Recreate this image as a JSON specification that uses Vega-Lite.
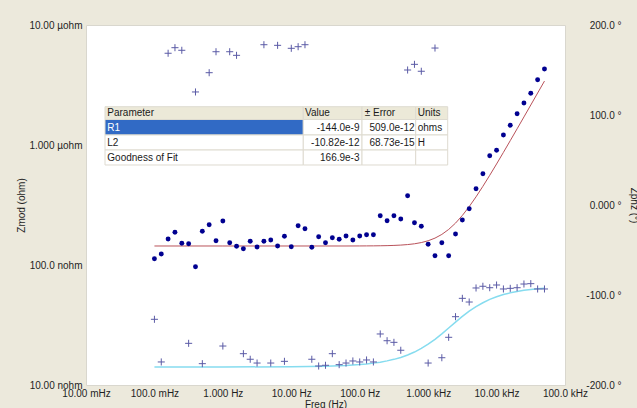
{
  "$schema": "https://vega.github.io/schema/vega-lite/v6.json",
  "width": 479,
  "height": 360,
  "autosize": {"type": "none"},
  "padding": {"left": 86, "top": 25, "right": 72, "bottom": 23},
  "background": "#ece9dc",
  "config": {
    "view": {"fill": "#ffffff", "stroke": "#d9d7ce"},
    "font": "Liberation Sans",
    "axis": {
      "domain": false, "ticks": false, "grid": false,
      "labelFont": "Liberation Sans", "labelFontSize": 10, "labelColor": "#1e1e1e",
      "titleFont": "Liberation Sans", "titleFontSize": 10, "titleFontWeight": "normal", "titleColor": "#1e1e1e",
      "labelFlush": false, "labelOverlap": false, "labelBound": false
    }
  },
  "datasets": {
    "points": [
      {"f": 0.1, "zmod": 1.128e-7, "phase": -127.0},
      {"f": 0.1259, "zmod": 1.235e-7, "phase": -174.4},
      {"f": 0.1585, "zmod": 1.647e-7, "phase": 168.6},
      {"f": 0.1995, "zmod": 1.873e-7, "phase": 174.8},
      {"f": 0.2512, "zmod": 1.516e-7, "phase": 171.9},
      {"f": 0.3162, "zmod": 1.505e-7, "phase": -153.7},
      {"f": 0.3981, "zmod": 9.68e-8, "phase": 125.6},
      {"f": 0.5012, "zmod": 1.909e-7, "phase": -176.3},
      {"f": 0.631, "zmod": 2.166e-7, "phase": 147.0},
      {"f": 0.7943, "zmod": 1.594e-7, "phase": 170.3},
      {"f": 1, "zmod": 2.326e-7, "phase": -156.7},
      {"f": 1.259, "zmod": 1.534e-7, "phase": 170.3},
      {"f": 1.585, "zmod": 1.431e-7, "phase": 166.3},
      {"f": 1.995, "zmod": 1.367e-7, "phase": -165.2},
      {"f": 2.512, "zmod": 1.576e-7, "phase": -171.4},
      {"f": 3.162, "zmod": 1.413e-7, "phase": -175.6},
      {"f": 3.981, "zmod": 1.576e-7, "phase": 178.1},
      {"f": 5.012, "zmod": 1.616e-7, "phase": -175.6},
      {"f": 6.31, "zmod": 1.44e-7, "phase": 177.4},
      {"f": 7.943, "zmod": 1.735e-7, "phase": -173.7},
      {"f": 10, "zmod": 1.42e-7, "phase": 174.1},
      {"f": 12.59, "zmod": 2.125e-7, "phase": 175.9},
      {"f": 15.85, "zmod": 2.006e-7, "phase": 178.1},
      {"f": 19.95, "zmod": 1.405e-7, "phase": -171.4},
      {"f": 25.12, "zmod": 1.721e-7, "phase": -178.9},
      {"f": 31.62, "zmod": 1.534e-7, "phase": -178.1},
      {"f": 39.81, "zmod": 1.688e-7, "phase": -165.2},
      {"f": 50.12, "zmod": 1.638e-7, "phase": -177.4},
      {"f": 63.1, "zmod": 1.745e-7, "phase": -175.6},
      {"f": 79.43, "zmod": 1.616e-7, "phase": -173.3},
      {"f": 100, "zmod": 1.745e-7, "phase": -174.4},
      {"f": 125.9, "zmod": 1.789e-7, "phase": -172.2},
      {"f": 158.5, "zmod": 1.789e-7, "phase": -174.4},
      {"f": 199.5, "zmod": 2.575e-7, "phase": -143.3},
      {"f": 251.2, "zmod": 2.339e-7, "phase": -150.8},
      {"f": 316.2, "zmod": 2.575e-7, "phase": -152.6},
      {"f": 398.1, "zmod": 2.416e-7, "phase": -161.4},
      {"f": 501.2, "zmod": 3.78e-7, "phase": 150.0},
      {"f": 631, "zmod": 2.251e-7, "phase": 156.3},
      {"f": 794.3, "zmod": 2.101e-7, "phase": 148.6},
      {"f": 1000, "zmod": 1.49e-7, "phase": -175.6},
      {"f": 1259, "zmod": 1.193e-7, "phase": 174.4},
      {"f": 1585, "zmod": 1.534e-7, "phase": -169.7},
      {"f": 1995, "zmod": 1.193e-7, "phase": -147.0},
      {"f": 2512, "zmod": 1.813e-7, "phase": -124.1},
      {"f": 3162, "zmod": 2.371e-7, "phase": -103.7},
      {"f": 3981, "zmod": 2.945e-7, "phase": -107.8},
      {"f": 5012, "zmod": 4.323e-7, "phase": -92.2},
      {"f": 6310, "zmod": 5.765e-7, "phase": -90.3},
      {"f": 7943, "zmod": 8.143e-7, "phase": -91.9},
      {"f": 10000, "zmod": 9.03e-7, "phase": -88.9},
      {"f": 12590, "zmod": 1.212e-6, "phase": -93.3},
      {"f": 15850, "zmod": 1.459e-6, "phase": -92.6},
      {"f": 19950, "zmod": 1.823e-6, "phase": -91.9},
      {"f": 25120, "zmod": 2.239e-6, "phase": -87.8},
      {"f": 31620, "zmod": 2.697e-6, "phase": -87.4},
      {"f": 39810, "zmod": 3.5e-6, "phase": -93.3},
      {"f": 50120, "zmod": 4.3e-6, "phase": -93.3}
    ],
    "fit": [
      {"f": 0.1, "zfit": 1.44e-7, "pfit": -180.0},
      {"f": 1, "zfit": 1.44e-7, "pfit": -180.0},
      {"f": 10, "zfit": 1.44e-7, "pfit": -179.7},
      {"f": 31.62, "zfit": 1.44e-7, "pfit": -179.1},
      {"f": 63.1, "zfit": 1.44e-7, "pfit": -178.3},
      {"f": 100, "zfit": 1.4416e-7, "pfit": -177.3},
      {"f": 125.9, "zfit": 1.4425e-7, "pfit": -176.6},
      {"f": 158.5, "zfit": 1.444e-7, "pfit": -175.7},
      {"f": 199.5, "zfit": 1.4464e-7, "pfit": -174.6},
      {"f": 251.2, "zfit": 1.4501e-7, "pfit": -173.2},
      {"f": 316.2, "zfit": 1.456e-7, "pfit": -171.5},
      {"f": 398.1, "zfit": 1.4652e-7, "pfit": -169.4},
      {"f": 501.2, "zfit": 1.4798e-7, "pfit": -166.7},
      {"f": 631, "zfit": 1.5025e-7, "pfit": -163.4},
      {"f": 794.3, "zfit": 1.5379e-7, "pfit": -159.4},
      {"f": 1000, "zfit": 1.5925e-7, "pfit": -154.7},
      {"f": 1259, "zfit": 1.6752e-7, "pfit": -149.3},
      {"f": 1585, "zfit": 1.7985e-7, "pfit": -143.2},
      {"f": 1995, "zfit": 1.9782e-7, "pfit": -136.7},
      {"f": 2512, "zfit": 2.234e-7, "pfit": -130.1},
      {"f": 3162, "zfit": 2.588e-7, "pfit": -123.8},
      {"f": 3981, "zfit": 3.066e-7, "pfit": -118.0},
      {"f": 5012, "zfit": 3.699e-7, "pfit": -112.9},
      {"f": 6310, "zfit": 4.525e-7, "pfit": -108.6},
      {"f": 7943, "zfit": 5.589e-7, "pfit": -104.9},
      {"f": 10000, "zfit": 6.949e-7, "pfit": -102.0},
      {"f": 12590, "zfit": 8.68e-7, "pfit": -99.5},
      {"f": 15850, "zfit": 1.0871e-6, "pfit": -97.6},
      {"f": 19950, "zfit": 1.364e-6, "pfit": -96.1},
      {"f": 25120, "zfit": 1.7139e-6, "pfit": -94.8},
      {"f": 31620, "zfit": 2.1549e-6, "pfit": -93.8},
      {"f": 39810, "zfit": 2.7109e-6, "pfit": -93.0},
      {"f": 50120, "zfit": 3.4103e-6, "pfit": -92.4}
    ],
    "tableCells": [
      {"f": 0.01896, "f2": 14.98, "z": 2.085e-6, "z2": 1.631e-6, "kind": "header"},
      {"f": 14.98, "f2": 108.0, "z": 2.085e-6, "z2": 1.631e-6, "kind": "header"},
      {"f": 108.0, "f2": 657.7, "z": 2.085e-6, "z2": 1.631e-6, "kind": "header"},
      {"f": 657.7, "f2": 1931, "z": 2.085e-6, "z2": 1.631e-6, "kind": "header"},
      {"f": 0.01896, "f2": 14.98, "z": 1.631e-6, "z2": 1.212e-6, "kind": "selected"},
      {"f": 14.98, "f2": 108.0, "z": 1.631e-6, "z2": 1.212e-6, "kind": "cell"},
      {"f": 108.0, "f2": 657.7, "z": 1.631e-6, "z2": 1.212e-6, "kind": "cell"},
      {"f": 657.7, "f2": 1931, "z": 1.631e-6, "z2": 1.212e-6, "kind": "cell"},
      {"f": 0.01896, "f2": 14.98, "z": 1.212e-6, "z2": 9.085e-7, "kind": "cell"},
      {"f": 14.98, "f2": 108.0, "z": 1.212e-6, "z2": 9.085e-7, "kind": "cell"},
      {"f": 108.0, "f2": 657.7, "z": 1.212e-6, "z2": 9.085e-7, "kind": "cell"},
      {"f": 657.7, "f2": 1931, "z": 1.212e-6, "z2": 9.085e-7, "kind": "cell"},
      {"f": 0.01896, "f2": 14.98, "z": 9.085e-7, "z2": 6.813e-7, "kind": "cell"},
      {"f": 14.98, "f2": 108.0, "z": 9.085e-7, "z2": 6.813e-7, "kind": "cell"},
      {"f": 108.0, "f2": 657.7, "z": 9.085e-7, "z2": 6.813e-7, "kind": "cell"},
      {"f": 657.7, "f2": 1931, "z": 9.085e-7, "z2": 6.813e-7, "kind": "cell"}
    ],
    "tableLeft": [
      {"label": "Parameter", "f": 0.02047, "z": 1.848e-6},
      {"label": "R1", "f": 0.02047, "z": 1.399e-6},
      {"label": "L2", "f": 0.02047, "z": 1.049e-6},
      {"label": "Goodness of Fit", "f": 0.02047, "z": 7.866e-7},
      {"label": "Value", "f": 15.86, "z": 1.848e-6},
      {"label": "± Error", "f": 118.3, "z": 1.848e-6},
      {"label": "509.0e-12", "f": 139.0, "z": 1.399e-6},
      {"label": "68.73e-15", "f": 139.0, "z": 1.049e-6},
      {"label": "Units", "f": 703.8, "z": 1.848e-6},
      {"label": "ohms", "f": 703.8, "z": 1.399e-6},
      {"label": "H", "f": 703.8, "z": 1.049e-6}
    ],
    "tableRight": [
      {"label": "-144.0e-9", "f": 99.27, "z": 1.399e-6},
      {"label": "-10.82e-12", "f": 99.27, "z": 1.049e-6},
      {"label": "166.9e-3", "f": 99.27, "z": 7.866e-7}
    ]
  },
  "layer": [
    {
      "layer": [
        {
          "data": {"name": "fit"},
          "mark": {"type": "line", "color": "#b9525a", "strokeWidth": 1},
          "encoding": {
            "x": {"field": "f", "type": "quantitative", "scale": {"type": "log", "domain": [0.01, 100000]},
              "axis": {"title": "Freq (Hz)", "values": [0.01, 0.1, 1, 10, 100, 1000, 10000, 100000],
                "labelExpr": "datum.value < 0.05 ? '10.00 mHz' : datum.value < 0.5 ? '100.0 mHz' : datum.value < 5 ? '1.000 Hz' : datum.value < 50 ? '10.00 Hz' : datum.value < 500 ? '100.0 Hz' : datum.value < 5000 ? '1.000 kHz' : datum.value < 50000 ? '10.00 kHz' : '100.0 kHz'",
                "labelPadding": 3, "titlePadding": 1}},
            "y": {"field": "zfit", "type": "quantitative", "scale": {"type": "log", "domain": [1e-8, 1e-5]},
              "axis": {"title": "Zmod (ohm)", "values": [1e-8, 1e-7, 1e-6, 1e-5],
                "labelExpr": "datum.value < 5e-8 ? '10.00 nohm' : datum.value < 5e-7 ? '100.0 nohm' : datum.value < 5e-6 ? '1.000 µohm' : '10.00 µohm'",
                "labelPadding": 4, "titlePadding": 2}}
          }
        },
        {
          "data": {"name": "points"},
          "mark": {"type": "point", "shape": "circle", "filled": true, "color": "#000090", "size": 24, "opacity": 1},
          "encoding": {
            "x": {"field": "f", "type": "quantitative", "scale": {"type": "log", "domain": [0.01, 100000]},
              "axis": {"title": "Freq (Hz)", "values": [0.01, 0.1, 1, 10, 100, 1000, 10000, 100000],
                "labelExpr": "datum.value < 0.05 ? '10.00 mHz' : datum.value < 0.5 ? '100.0 mHz' : datum.value < 5 ? '1.000 Hz' : datum.value < 50 ? '10.00 Hz' : datum.value < 500 ? '100.0 Hz' : datum.value < 5000 ? '1.000 kHz' : datum.value < 50000 ? '10.00 kHz' : '100.0 kHz'",
                "labelPadding": 3, "titlePadding": 1}},
            "y": {"field": "zmod", "type": "quantitative", "scale": {"type": "log", "domain": [1e-8, 1e-5]},
              "axis": {"title": "Zmod (ohm)", "values": [1e-8, 1e-7, 1e-6, 1e-5],
                "labelExpr": "datum.value < 5e-8 ? '10.00 nohm' : datum.value < 5e-7 ? '100.0 nohm' : datum.value < 5e-6 ? '1.000 µohm' : '10.00 µohm'",
                "labelPadding": 4, "titlePadding": 2}}
          }
        },
        {
          "data": {"name": "tableCells"},
          "mark": {"type": "rect", "stroke": "#dedbd0", "strokeWidth": 1},
          "encoding": {
            "x": {"field": "f", "type": "quantitative", "scale": {"type": "log", "domain": [0.01, 100000]},
              "axis": {"title": "Freq (Hz)", "values": [0.01, 0.1, 1, 10, 100, 1000, 10000, 100000],
                "labelExpr": "datum.value < 0.05 ? '10.00 mHz' : datum.value < 0.5 ? '100.0 mHz' : datum.value < 5 ? '1.000 Hz' : datum.value < 50 ? '10.00 Hz' : datum.value < 500 ? '100.0 Hz' : datum.value < 5000 ? '1.000 kHz' : datum.value < 50000 ? '10.00 kHz' : '100.0 kHz'",
                "labelPadding": 3, "titlePadding": 1}},
            "x2": {"field": "f2"},
            "y": {"field": "z", "type": "quantitative", "scale": {"type": "log", "domain": [1e-8, 1e-5]},
              "axis": {"title": "Zmod (ohm)", "values": [1e-8, 1e-7, 1e-6, 1e-5],
                "labelExpr": "datum.value < 5e-8 ? '10.00 nohm' : datum.value < 5e-7 ? '100.0 nohm' : datum.value < 5e-6 ? '1.000 µohm' : '10.00 µohm'",
                "labelPadding": 4, "titlePadding": 2}},
            "y2": {"field": "z2"},
            "color": {"field": "kind", "type": "nominal", "scale": {"domain": ["header", "selected", "cell"], "range": ["#ece9d8", "#316ac5", "#ffffff"]}, "legend": null}
          }
        },
        {
          "data": {"name": "tableLeft"},
          "mark": {"type": "text", "align": "left", "baseline": "middle", "fontSize": 10, "font": "Liberation Sans"},
          "encoding": {
            "x": {"field": "f", "type": "quantitative", "scale": {"type": "log", "domain": [0.01, 100000]},
              "axis": {"title": "Freq (Hz)", "values": [0.01, 0.1, 1, 10, 100, 1000, 10000, 100000],
                "labelExpr": "datum.value < 0.05 ? '10.00 mHz' : datum.value < 0.5 ? '100.0 mHz' : datum.value < 5 ? '1.000 Hz' : datum.value < 50 ? '10.00 Hz' : datum.value < 500 ? '100.0 Hz' : datum.value < 5000 ? '1.000 kHz' : datum.value < 50000 ? '10.00 kHz' : '100.0 kHz'",
                "labelPadding": 3, "titlePadding": 1}},
            "y": {"field": "z", "type": "quantitative", "scale": {"type": "log", "domain": [1e-8, 1e-5]},
              "axis": {"title": "Zmod (ohm)", "values": [1e-8, 1e-7, 1e-6, 1e-5],
                "labelExpr": "datum.value < 5e-8 ? '10.00 nohm' : datum.value < 5e-7 ? '100.0 nohm' : datum.value < 5e-6 ? '1.000 µohm' : '10.00 µohm'",
                "labelPadding": 4, "titlePadding": 2}},
            "text": {"field": "label"},
            "color": {"condition": {"test": "datum.label === 'R1'", "value": "#ffffff"}, "value": "#1a1a1a"}
          }
        },
        {
          "data": {"name": "tableRight"},
          "mark": {"type": "text", "align": "right", "baseline": "middle", "fontSize": 10, "font": "Liberation Sans", "color": "#1a1a1a"},
          "encoding": {
            "x": {"field": "f", "type": "quantitative", "scale": {"type": "log", "domain": [0.01, 100000]},
              "axis": {"title": "Freq (Hz)", "values": [0.01, 0.1, 1, 10, 100, 1000, 10000, 100000],
                "labelExpr": "datum.value < 0.05 ? '10.00 mHz' : datum.value < 0.5 ? '100.0 mHz' : datum.value < 5 ? '1.000 Hz' : datum.value < 50 ? '10.00 Hz' : datum.value < 500 ? '100.0 Hz' : datum.value < 5000 ? '1.000 kHz' : datum.value < 50000 ? '10.00 kHz' : '100.0 kHz'",
                "labelPadding": 3, "titlePadding": 1}},
            "y": {"field": "z", "type": "quantitative", "scale": {"type": "log", "domain": [1e-8, 1e-5]},
              "axis": {"title": "Zmod (ohm)", "values": [1e-8, 1e-7, 1e-6, 1e-5],
                "labelExpr": "datum.value < 5e-8 ? '10.00 nohm' : datum.value < 5e-7 ? '100.0 nohm' : datum.value < 5e-6 ? '1.000 µohm' : '10.00 µohm'",
                "labelPadding": 4, "titlePadding": 2}},
            "text": {"field": "label"}
          }
        }
      ]
    },
    {
      "layer": [
        {
          "data": {"name": "fit"},
          "mark": {"type": "line", "color": "#86dcef", "strokeWidth": 1.5},
          "encoding": {
            "x": {"field": "f", "type": "quantitative", "scale": {"type": "log", "domain": [0.01, 100000]},
              "axis": {"title": "Freq (Hz)", "values": [0.01, 0.1, 1, 10, 100, 1000, 10000, 100000],
                "labelExpr": "datum.value < 0.05 ? '10.00 mHz' : datum.value < 0.5 ? '100.0 mHz' : datum.value < 5 ? '1.000 Hz' : datum.value < 50 ? '10.00 Hz' : datum.value < 500 ? '100.0 Hz' : datum.value < 5000 ? '1.000 kHz' : datum.value < 50000 ? '10.00 kHz' : '100.0 kHz'",
                "labelPadding": 3, "titlePadding": 1}},
            "y": {"field": "pfit", "type": "quantitative", "scale": {"domain": [-200, 200]},
              "axis": {"orient": "right", "title": "Zphz (°)", "values": [-200, -100, 0, 100, 200],
                "labelExpr": "datum.value == 200 ? '200.0 °' : datum.value == 100 ? '100.0 °' : datum.value == 0 ? '0.000 °' : datum.value == -100 ? '-100.0 °' : '-200.0 °'",
                "labelAlign": "right", "labelPadding": 56, "titlePadding": 7}}
          }
        },
        {
          "data": {"name": "points"},
          "mark": {"type": "point", "shape": "M-1,0L1,0M0,-1L0,1", "filled": false, "stroke": "#5b5ba6", "strokeWidth": 1, "size": 50, "opacity": 1},
          "encoding": {
            "x": {"field": "f", "type": "quantitative", "scale": {"type": "log", "domain": [0.01, 100000]},
              "axis": {"title": "Freq (Hz)", "values": [0.01, 0.1, 1, 10, 100, 1000, 10000, 100000],
                "labelExpr": "datum.value < 0.05 ? '10.00 mHz' : datum.value < 0.5 ? '100.0 mHz' : datum.value < 5 ? '1.000 Hz' : datum.value < 50 ? '10.00 Hz' : datum.value < 500 ? '100.0 Hz' : datum.value < 5000 ? '1.000 kHz' : datum.value < 50000 ? '10.00 kHz' : '100.0 kHz'",
                "labelPadding": 3, "titlePadding": 1}},
            "y": {"field": "phase", "type": "quantitative", "scale": {"domain": [-200, 200]},
              "axis": {"orient": "right", "title": "Zphz (°)", "values": [-200, -100, 0, 100, 200],
                "labelExpr": "datum.value == 200 ? '200.0 °' : datum.value == 100 ? '100.0 °' : datum.value == 0 ? '0.000 °' : datum.value == -100 ? '-100.0 °' : '-200.0 °'",
                "labelAlign": "right", "labelPadding": 56, "titlePadding": 7}}
          }
        }
      ]
    }
  ],
  "resolve": {"scale": {"y": "independent"}}
}
